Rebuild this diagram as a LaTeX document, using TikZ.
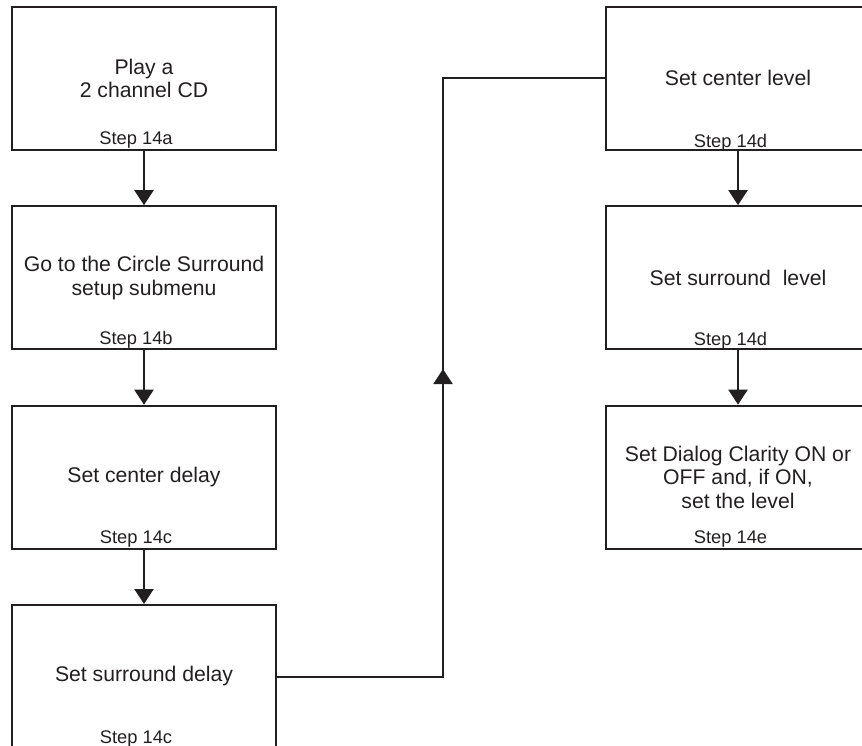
\documentclass[tikz,border=0pt]{standalone}
\usepackage{fontspec}
\setmainfont{Liberation Sans}
\usetikzlibrary{arrows.meta}
\definecolor{ink}{HTML}{231F20}
\begin{document}
\begin{tikzpicture}[x=1pt,y=-1pt,
  box/.style={draw=ink, line width=2pt, minimum width=264pt, minimum height=143pt,
    align=center, font=\fontsize{21.2}{23.7}\selectfont, text=ink, inner sep=0pt},
  steplbl/.style={font=\fontsize{18.3}{22}\selectfont, text=ink, anchor=base, inner sep=0pt},
  link/.style={draw=ink, line width=2pt},
  arr/.style={link, -{Triangle[length=15pt,width=19pt]}}]
\useasboundingbox (0,0) rectangle (862,746);
\clip (0,0) rectangle (862,746);
% left column
\node[box] (a) at (144,78.3) {Play a\\2 channel CD};
\node[box] (b) at (144,277.7) {Go to the Circle Surround\\setup submenu};
\node[box] (c) at (144,477.2) {Set center delay};
\node[box] (d) at (144,676.5) {Set surround delay};
% right column
\node[box] (e) at (738,78.3) {Set center level};
\node[box] (f) at (738,277.7) {Set surround\ \ level};
\node[box] (g) at (738,477.2) {Set Dialog Clarity ON or\\OFF and, if ON,\\set the level};
% step labels
\node[steplbl] (sa) at ([shift={(-8,-6)}]a.south) {Step 14a};
\node[steplbl] (sb) at ([shift={(-8,-6)}]b.south) {Step 14b};
\node[steplbl] (sc) at ([shift={(-8,-6)}]c.south) {Step 14c};
\node[steplbl] (sd) at ([shift={(-8,-6)}]d.south) {Step 14c};
\node[steplbl] (se) at ([shift={(-7.5,-3)}]e.south) {Step 14d};
\node[steplbl] (sf) at ([shift={(-7.5,-5)}]f.south) {Step 14d};
\node[steplbl] (sg) at ([shift={(-7.5,-6)}]g.south) {Step 14e};
% arrows
\draw[arr] (a) -- (b);
\draw[arr] (b) -- (c);
\draw[arr] (c) -- (d);
\draw[arr] (e) -- (f);
\draw[arr] (f) -- (g);
% connector
\coordinate (jx) at (443,0);
\coordinate (m1) at (443,395);
\coordinate (m2) at (443,369);
\draw[link] (d.east) -- (d.east -| jx) -- (e.west -| jx) -- (e.west);
\draw[arr] (m1) -- (m2);
\end{tikzpicture}
\end{document}
